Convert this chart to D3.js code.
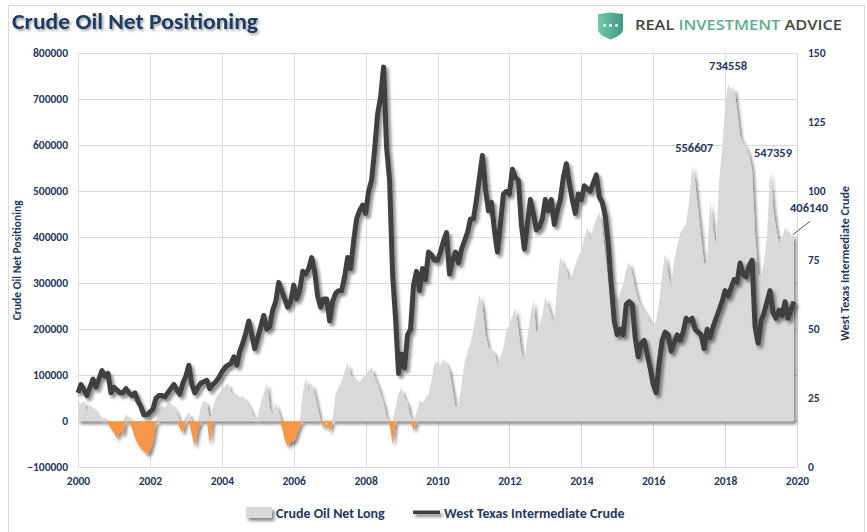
<!DOCTYPE html>
<html><head><meta charset="utf-8">
<script src="https://cdn.jsdelivr.net/npm/d3@7"></script>
<style>body{margin:0;background:#fff}svg{display:block}</style>
</head><body><svg id="c" width="867" height="532"></svg>
<script>
// ---------------- data ----------------
const startYear = 2000;          // first month: Jan 2000, monthly observations
// Crude oil non-commercial net long positioning, thousands of contracts (monthly)
const netLongK = [
 42,38,45,20,35,28,20,10,5,8,-5,-15,
 -25,-38,-20,-30,15,10,-15,-35,-50,-58,-65,-72,
 -65,-45,-5,25,35,30,40,38,30,20,-15,-25,
 10,20,-30,-55,-20,30,45,40,-50,30,50,60,
 70,75,83,65,55,60,50,55,45,35,20,5,
 10,40,60,85,30,15,40,20,-10,-40,-55,-45,
 -45,-30,-10,60,94,65,83,60,30,0,-15,5,
 -23,5,60,75,85,110,126,100,95,90,85,95,
 100,110,116,95,80,60,40,10,-5,-51,30,60,
 72,50,40,10,-20,20,46,40,50,60,90,126,
 130,120,135,125,110,70,30,35,80,126,150,170,
 200,240,275,250,190,160,155,150,122,140,160,200,
 210,230,246,200,150,133,180,230,264,192,210,230,
 271,250,230,213,300,358,340,330,307,320,340,358,
 370,400,422,393,420,440,455,420,358,300,285,270,
 257,280,300,330,347,320,290,263,250,240,230,215,
 205,220,260,320,365,320,292,350,380,409,420,430,
 480,556.607,520,460,400,343,343,480,420,380,520,597,
 680,734.558,713,727,677,620,605,597,580,547,409,320,
 313,350,400,547.359,467,420,387,395,422,409,400,406.14
];
// West Texas Intermediate crude, $/bbl (monthly)
const wtiPrice = [
 27,30,28,26,29,32,29,32,35,33,34,27,
 29,28,27,27,28.5,27,26,27,24,22,19,19,
 20,21,25,26,26,25.5,27,28.5,30,28,26.5,30.5,
 33,37,30,27,29,30.5,31,31.5,28.5,30,31,32.5,
 34.5,36,37,37.5,40,37,42,45,48.5,53,48,43,
 47,51,55,50,51,57,60,67,64,61,58,60,
 66,61,64,71,70,72,76,71,62,58,61,61,
 53,60,63,64,64,69,76,72,82,90,93,95,
 92,100,104,115,128,134,145,116,104,70,54,34,
 41,36,48,50,66,71,64,72,68,78,77,75,
 75,78,82,85,70,75,78,74,79,82,85,90,
 90,97,105,113,101,93,96,86,78,88,99,100,
 99,108,105,104,88,79,88,97,92,86,87,90,
 97,93,97,88,93,97,105,110,103,97,92,99,
 97,102,101,100,103,106,98,96,91,81,66,53,
 48,50,48,59,60,59,47,40,45,46,41,36,
 30,27,38,46,49,48,42,45,48,46,49,54,
 53,54,50,49,48,43,50,47,51,54,57,60,
 64,62,65,68,67,74,70,69,73,75,51,45,
 53,56,60,64,56,54,57,55,60,54,57,60
];
const leftTicks = [-100000,0,100000,200000,300000,400000,500000,600000,700000,800000];
const rightTicks = [0,25,50,75,100,125,150];
const yearTicks = [2000,2002,2004,2006,2008,2010,2012,2014,2016,2018,2020];
const peakValues = [556607, 734558, 547359, 406140];
const peakMonthIdx = [205, 217, 231, 239];   // Feb 2017, Feb 2018, Apr 2019, Dec 2019
const titleText = "Crude Oil Net Positioning";
const leftTitle = "Crude Oil Net Positioning";
const rightTitle = "West Texas Intermediate Crude";
const legendNames = ["Crude Oil Net Long", "West Texas Intermediate Crude"];

// ---------------- drawing ----------------
const FONT = "Carlito, Calibri, Lato, sans-serif";
const NAVY = "#1f3864";
const svg = d3.select("#c");
const defs = svg.append("defs");
const f = defs.append("filter").attr("id","sh").attr("filterUnits","userSpaceOnUse")
  .attr("x",0).attr("y",0).attr("width",867).attr("height",532);
f.append("feDropShadow").attr("dx",2.5).attr("dy",3).attr("stdDeviation",1.6).attr("flood-color","#000").attr("flood-opacity",0.45);
const ft = defs.append("filter").attr("id","tsh").attr("x","-5%").attr("y","-20%").attr("width","115%").attr("height","160%");
ft.append("feDropShadow").attr("dx",1.5).attr("dy",1.8).attr("stdDeviation",1).attr("flood-color","#666").attr("flood-opacity",0.6);
const g1 = defs.append("linearGradient").attr("id","shield").attr("x1","0").attr("x2","1").attr("y1","0").attr("y2","0");
g1.append("stop").attr("offset","0").attr("stop-color","#74c8ab");
g1.append("stop").attr("offset","1").attr("stop-color","#3f9a80");

// outer frame
svg.append("rect").attr("x",8.5).attr("y",5.5).attr("width",856).attr("height",540)
  .attr("fill","none").attr("stroke","#d9d9d9");

const L = 78, R = 797, T = 53.3, B = 467.3;
const x = d3.scaleLinear().domain([2000, 2020]).range([L, R]);
const yL = d3.scaleLinear().domain([-100000, 800000]).range([B, T]);
const yR = d3.scaleLinear().domain([0, 150]).range([B, T]);
const tOf = i => startYear + i / 12;

// gridlines
svg.append("g").selectAll("line").data(leftTicks).join("line")
  .attr("x1",L).attr("x2",R).attr("y1",d=>Math.round(yL(d))+0.5).attr("y2",d=>Math.round(yL(d))+0.5)
  .attr("stroke","#d9d9d9");
svg.append("g").selectAll("line").data(yearTicks).join("line")
  .attr("y1",T).attr("y2",B).attr("x1",d=>Math.round(x(d))+0.5).attr("x2",d=>Math.round(x(d))+0.5)
  .attr("stroke","#d9d9d9");

// areas
const pos = d3.area().x((d,i)=>x(tOf(i))).y0(yL(0)).y1(d=>yL(Math.max(d,0)*1000));
const neg = d3.area().x((d,i)=>x(tOf(i))).y0(yL(0)).y1(d=>yL(Math.min(d,0)*1000));
svg.append("path").datum(netLongK).attr("d",pos).attr("fill","#d9d9d9").attr("filter","url(#sh)");
svg.append("path").datum(netLongK).attr("d",neg).attr("fill","#f79646").attr("filter","url(#sh)");

// WTI line
const ln = d3.line().x((d,i)=>x(tOf(i))).y(d=>yR(d));
svg.append("path").datum(wtiPrice).attr("d",ln).attr("fill","none").attr("stroke","#404040")
  .attr("stroke-width",5).attr("stroke-linejoin","round").attr("filter","url(#sh)");

// axes
const axL = svg.append("g").attr("transform",`translate(68,0)`)
  .call(d3.axisLeft(yL).tickValues(leftTicks).tickSize(0).tickPadding(0).tickFormat(d3.format("d")));
const axR = svg.append("g").attr("transform",`translate(808,0)`)
  .call(d3.axisRight(yR).tickValues(rightTicks).tickSize(0).tickPadding(0));
const axB = svg.append("g").attr("transform",`translate(0,477)`)
  .call(d3.axisBottom(x).tickValues(yearTicks).tickSize(0).tickPadding(0).tickFormat(d3.format("d")));
[axL,axR,axB].forEach(a=>{
  a.select(".domain").remove();
  a.selectAll("text").attr("font-family",FONT).attr("font-weight","bold").attr("font-size",11.5).attr("fill",NAVY);
});
axB.selectAll("text").attr("dy","0.71em");

// axis titles
svg.append("text").attr("transform",`translate(21,${(T+B)/2}) rotate(-90)`).attr("text-anchor","middle")
  .attr("font-family",FONT).attr("font-weight","bold").attr("font-size",11.5).attr("fill",NAVY).text(leftTitle);
svg.append("text").attr("transform",`translate(849,${(T+B)/2+3}) rotate(-90)`).attr("text-anchor","middle")
  .attr("font-family",FONT).attr("font-weight","bold").attr("font-size",12).attr("fill",NAVY).text(rightTitle);

// peak annotations
const offs = [[2,-13],[0,-13],[3,-13],[15,-22]];
peakValues.forEach((v,k)=>{
  const px = x(tOf(peakMonthIdx[k])), py = yL(v);
  svg.append("text").attr("x",px+offs[k][0]).attr("y",py+offs[k][1]).attr("text-anchor","middle")
    .attr("font-family",FONT).attr("font-weight","bold").attr("font-size",12.5).attr("fill",NAVY).text(String(v));
  if(k===3){
    svg.append("line").attr("x1",px-1).attr("y1",py).attr("x2",px+16).attr("y2",py-13)
      .attr("stroke","#595959").attr("stroke-width",1);
  }
});

// title
svg.append("text").attr("x",12).attr("y",29).attr("font-family",FONT).attr("font-weight","bold")
  .attr("font-size",22).attr("fill","#1f3c64").attr("textLength",246).attr("lengthAdjust","spacingAndGlyphs")
  .attr("filter","url(#tsh)").text(titleText);

// logo
svg.append("path").attr("d","M598,14 L610.5,12.5 L623,14 L623,30 Q623,35 610.5,39.5 Q598,35 598,30 Z").attr("fill","url(#shield)");
[604.5,610.5,616.5].forEach(cx=>svg.append("circle").attr("cx",cx).attr("cy",25.5).attr("r",1.4).attr("fill","#fff"));
const lg = svg.append("text").attr("x",635).attr("y",30).attr("font-family","'Open Sans', Arial, sans-serif")
  .attr("font-size",13.5).attr("font-weight",600).attr("textLength",207).attr("lengthAdjust","spacingAndGlyphs");
lg.append("tspan").attr("fill","#454545").text("REAL ");
lg.append("tspan").attr("fill","#5aae8f").text("INVESTMENT ");
lg.append("tspan").attr("fill","#454545").text("ADVICE");

// legend
svg.append("rect").attr("x",246).attr("y",507).attr("width",26).attr("height",11).attr("fill","#d9d9d9").attr("filter","url(#sh)");
svg.append("text").attr("x",276).attr("y",517.5).attr("font-family",FONT).attr("font-weight","bold")
  .attr("font-size",14).attr("fill",NAVY).text(legendNames[0]);
svg.append("rect").attr("x",413).attr("y",510.5).attr("width",27).attr("height",3.5).attr("fill","#404040")
  .attr("filter","url(#sh)");
svg.append("text").attr("x",444).attr("y",517.5).attr("font-family",FONT).attr("font-weight","bold")
  .attr("font-size",14).attr("fill",NAVY).text(legendNames[1]);
</script></body></html>
